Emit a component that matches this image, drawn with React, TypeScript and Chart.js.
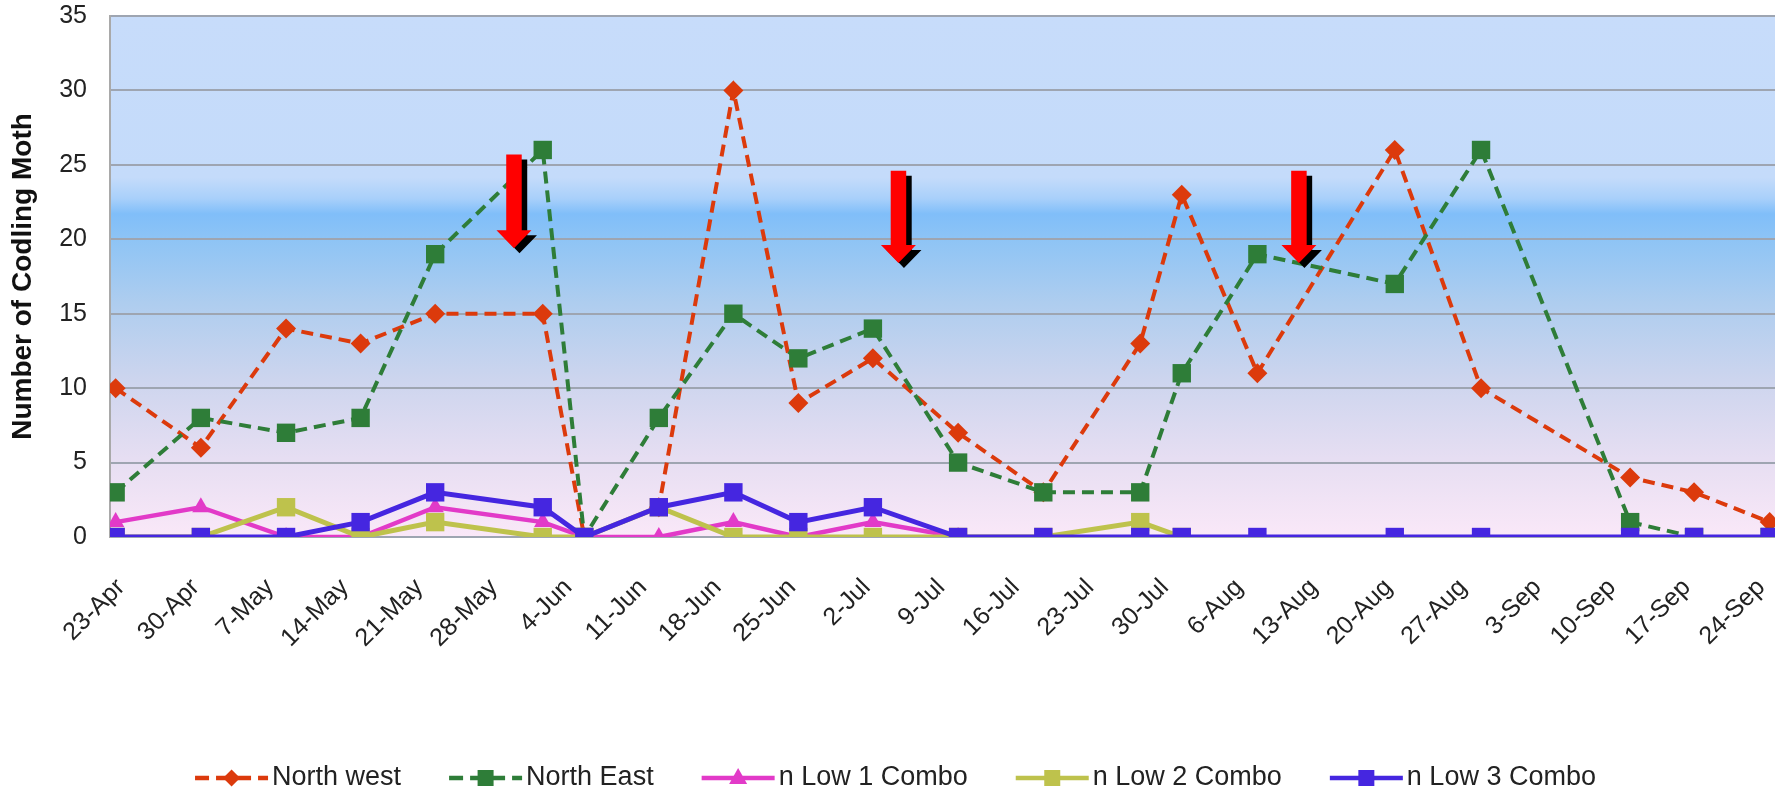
import React, { useEffect, useRef } from "react";
import { Chart, registerables } from "chart.js";

Chart.register(...registerables);

// Sampling dates, as days after 23-Apr
const sampleDay = [-0.5, 7.5, 15.5, 22.5, 29.5, 39.6, 43.5, 50.5, 57.5, 63.6, 70.6, 78.6, 86.6, 95.7, 99.6, 106.7, 119.6, 127.7, 141.7, 147.7, 154.8];

const northWest = [10, 6, 14, 13, 15, 15, 0, 2, 30, 9, 12, 7, 3, 13, 23, 11, 26, 10, 4, 3, 1];
const northEast = [3, 8, 7, 8, 19, 26, 0, 8, 15, 12, 14, 5, 3, 3, 11, 19, 17, 26, 1, 0, 0];
const low1Combo = [1, 2, 0, 0, 2, 1, 0, 0, 1, 0, 1, 0, null, null, null, null, null, null, null, null, null];
const low2Combo = [0, 0, 2, 0, 1, 0, 0, 2, 0, 0, 0, 0, 0, 1, 0, null, null, null, null, null, null];
const low3Combo = [0, 0, 0, 1, 3, 2, 0, 2, 3, 1, 2, 0, 0, 0, 0, 0, 0, 0, 0, 0, 0];

const tickDays = [0, 7, 14, 21, 28, 35, 42, 49, 56, 63, 70, 77, 84, 91, 98, 105, 112, 119, 126, 133, 140, 147, 154];
const tickLabels = ["23-Apr", "30-Apr", "7-May", "14-May", "21-May", "28-May", "4-Jun", "11-Jun", "18-Jun", "25-Jun", "2-Jul", "9-Jul", "16-Jul", "23-Jul", "30-Jul", "6-Aug", "13-Aug", "20-Aug", "27-Aug", "3-Sep", "10-Sep", "17-Sep", "24-Sep"];

// Spray-timing arrows (day, top value, tip value)
const arrowDay = [36.9, 73.0, 110.6];
const arrowTop = [25.7, 24.6, 24.6];
const arrowTip = [19.4, 18.4, 18.4];

const seriesNames = ["North west", "North East", "n Low 1 Combo", "n Low 2 Combo", "n Low 3 Combo"];
const seriesValues = [northWest, northEast, low1Combo, low2Combo, low3Combo];

const FONT = '"Liberation Sans", Arial, sans-serif';

const styles = [
  { color: "#DC3A0C", dash: [12, 7], point: "rectRot", radius: 10, width: 4, order: 4 },
  { color: "#2E7D38", dash: [12, 7], point: "rect", radius: 13, width: 4, order: 3 },
  { color: "#E23AC8", dash: [], point: "triangle", radius: 10, width: 4.5, order: 2 },
  { color: "#BEC24C", dash: [], point: "rect", radius: 13, width: 5, order: 1 },
  { color: "#4526E0", dash: [], point: "rect", radius: 13, width: 5, order: 0 },
];

function drawMarker(ctx: CanvasRenderingContext2D, kind: string, x: number, y: number, s: number) {
  ctx.beginPath();
  if (kind === "rectRot") {
    ctx.moveTo(x, y - s);
    ctx.lineTo(x + s, y);
    ctx.lineTo(x, y + s);
    ctx.lineTo(x - s, y);
  } else if (kind === "triangle") {
    ctx.moveTo(x, y - s);
    ctx.lineTo(x + s * 0.9, y + s * 0.6);
    ctx.lineTo(x - s * 0.9, y + s * 0.6);
  } else {
    ctx.rect(x - s, y - s, 2 * s, 2 * s);
  }
  ctx.closePath();
  ctx.fill();
}

function drawArrow(ctx: CanvasRenderingContext2D, cx: number, top: number, tip: number, color: string) {
  const shaftHalf = 7.75;
  const headHalf = 17.5;
  const headH = 18;
  ctx.fillStyle = color;
  ctx.beginPath();
  ctx.moveTo(cx - shaftHalf, top);
  ctx.lineTo(cx + shaftHalf, top);
  ctx.lineTo(cx + shaftHalf, tip - headH);
  ctx.lineTo(cx + headHalf, tip - headH);
  ctx.lineTo(cx, tip);
  ctx.lineTo(cx - headHalf, tip - headH);
  ctx.lineTo(cx - shaftHalf, tip - headH);
  ctx.closePath();
  ctx.fill();
}

export default function App() {
  const ref = useRef<HTMLCanvasElement>(null);

  useEffect(() => {
    const canvas = ref.current;
    if (!canvas) return;

    const bgPlugin = {
      id: "plotBg",
      beforeDraw(chart: any) {
        const { ctx, chartArea: a } = chart;
        const h = a.bottom - a.top;
        const g = ctx.createLinearGradient(0, a.top, 0, a.bottom);
        g.addColorStop(0, "#c7dcfa");
        g.addColorStop(0.31, "#c4dbfa");
        g.addColorStop(0.35, "#a9d0fa");
        g.addColorStop(0.38, "#80bef9");
        g.addColorStop(0.43, "#8ec4f5");
        g.addColorStop(0.55, "#aecdef");
        g.addColorStop(0.7, "#cdd5ee");
        g.addColorStop(0.85, "#e6def2");
        g.addColorStop(1, "#fae8f8");
        ctx.save();
        ctx.fillStyle = g;
        ctx.fillRect(a.left, a.top, a.right - a.left, h);
        ctx.restore();
      },
    };

    const arrowPlugin = {
      id: "arrows",
      afterDatasetsDraw(chart: any) {
        const { ctx } = chart;
        const xs = chart.scales.x;
        const ys = chart.scales.y;
        ctx.save();
        for (let i = 0; i < arrowDay.length; i++) {
          const cx = xs.getPixelForValue(arrowDay[i]);
          const top = ys.getPixelForValue(arrowTop[i]);
          const tip = ys.getPixelForValue(arrowTip[i]);
          drawArrow(ctx, cx + 5.5, top + 5, tip + 5, "#000000");
          drawArrow(ctx, cx, top, tip, "#ff0000");
        }
        ctx.restore();
      },
    };

    const legendPlugin = {
      id: "lineLegend",
      afterDraw(chart: any) {
        const { ctx } = chart;
        ctx.save();
        ctx.font = `27px ${FONT}`;
        const lineLen = 73;
        const gap = 4;
        const spacing = 48;
        const widths = seriesNames.map((n) => ctx.measureText(n).width);
        let total = spacing * (seriesNames.length - 1);
        widths.forEach((w) => (total += lineLen + gap + w));
        let x = (chart.width - total) / 2;
        const y = 778;
        seriesNames.forEach((name, i) => {
          const st = styles[i];
          ctx.strokeStyle = st.color;
          ctx.fillStyle = st.color;
          ctx.lineWidth = 4.5;
          ctx.setLineDash(st.dash.length ? [14, 7] : []);
          ctx.beginPath();
          ctx.moveTo(x, y);
          ctx.lineTo(x + lineLen, y);
          ctx.stroke();
          ctx.setLineDash([]);
          const ms = st.point === "rectRot" ? 8.5 : st.point === "triangle" ? 10 : 8;
          drawMarker(ctx, st.point, x + lineLen / 2, y, ms);
          ctx.fillStyle = "#222222";
          ctx.textBaseline = "middle";
          ctx.textAlign = "left";
          ctx.fillText(name, x + lineLen + gap, y);
          x += lineLen + gap + widths[i] + spacing;
        });
        ctx.restore();
      },
    };

    const datasets = seriesNames.map((name, i) => {
      const st = styles[i];
      const vals = seriesValues[i];
      const data: { x: number; y: number }[] = [];
      vals.forEach((v, j) => {
        if (v !== null && v !== undefined) data.push({ x: sampleDay[j], y: v as number });
      });
      return {
        label: name,
        data,
        borderColor: st.color,
        backgroundColor: st.color,
        borderWidth: st.width,
        borderDash: st.dash,
        pointStyle: st.point,
        pointRadius: st.radius,
        pointBackgroundColor: st.color,
        pointBorderColor: st.color,
        pointBorderWidth: 0,
        tension: 0,
        fill: false,
        order: st.order,
      };
    });

    const chart = new Chart(canvas, {
      type: "line",
      data: { datasets } as any,
      options: {
        animation: false,
        responsive: false,
        layout: { padding: { left: 0, right: 16, top: 16, bottom: 0 } },
        plugins: { legend: { display: false }, tooltip: { enabled: false } },
        scales: {
          x: {
            type: "linear",
            min: -1.03,
            max: 155.3,
            afterBuildTicks: (s: any) => {
              s.ticks = tickDays.map((v) => ({ value: v }));
            },
            afterFit: (s: any) => {
              s.height = 257;
              s.paddingLeft = 0;
              s.paddingRight = 0;
            },
            grid: { display: false, drawTicks: false },
            border: { display: false },
            ticks: {
              autoSkip: false,
              minRotation: 45,
              maxRotation: 45,
              padding: 36,
              color: "#222222",
              font: { family: FONT, size: 25 },
              callback: (_v: any, i: number) => tickLabels[i],
            },
          },
          y: {
            min: 0,
            max: 35,
            afterFit: (s: any) => {
              s.width = 110;
              s.paddingTop = 0;
              s.paddingBottom = 0;
            },
            ticks: { stepSize: 5, padding: 23, color: "#222222", font: { family: FONT, size: 25 } },
            grid: { color: "#9ea5b1", lineWidth: 2, drawTicks: false },
            border: { color: "#a9a9a9", width: 2 },
            title: {
              display: true,
              text: "Number of Codling Moth",
              color: "#111111",
              font: { family: FONT, size: 28, weight: "bold" },
              padding: { top: 6, bottom: 0 },
            },
          },
        },
      } as any,
      plugins: [bgPlugin, arrowPlugin, legendPlugin],
    });

    return () => chart.destroy();
  }, []);

  return (
    <div style={{ position: "fixed", left: 0, top: 0, width: 1791, height: 794, background: "#ffffff" }}>
      <canvas ref={ref} width={1791} height={794} style={{ display: "block" }} />
    </div>
  );
}
